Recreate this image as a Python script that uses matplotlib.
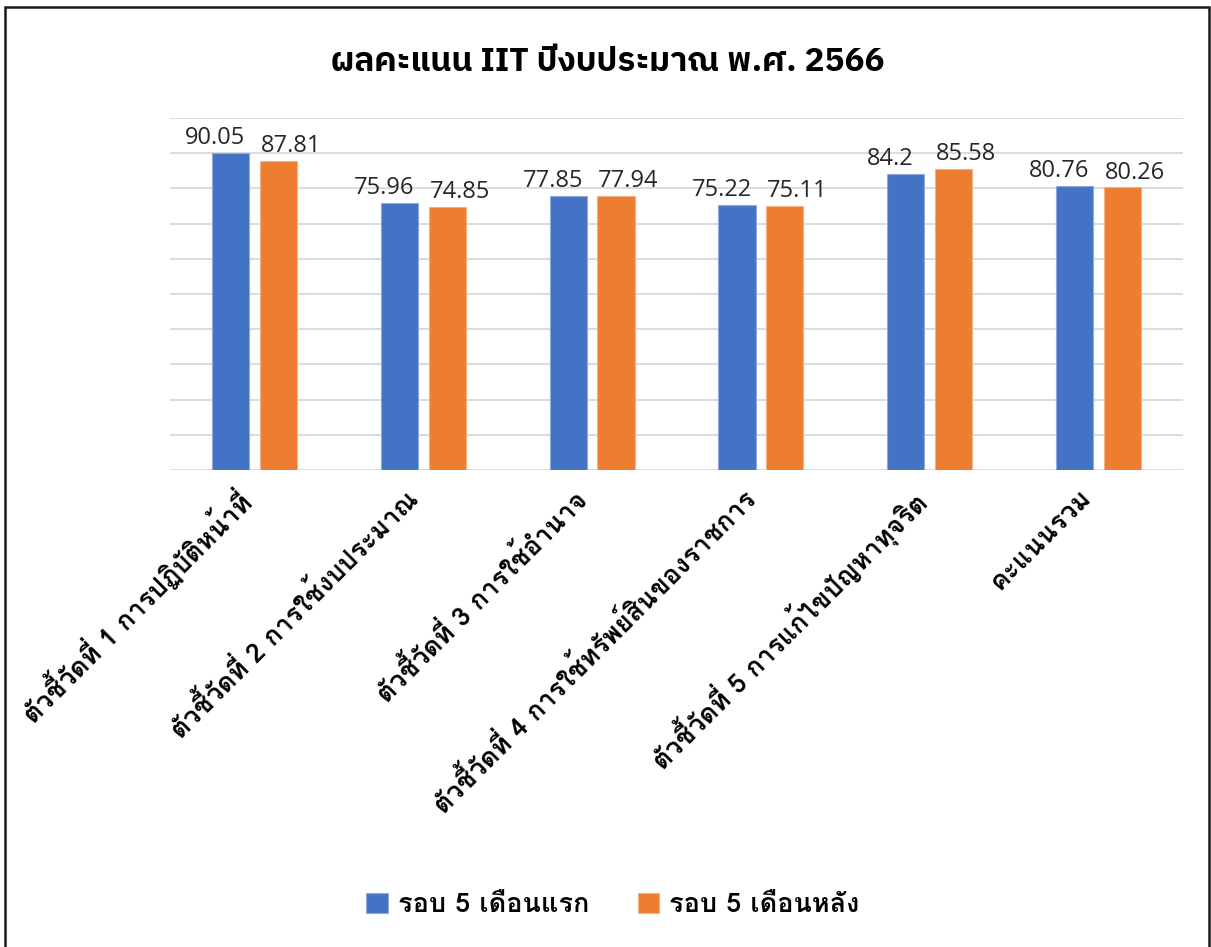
import numpy as np
import matplotlib
matplotlib.use('Agg')
import matplotlib.pyplot as plt
from matplotlib.patches import Rectangle
from matplotlib.transforms import ScaledTranslation

categories = ['ตัวชี้วัดที่ 1 การปฏิบัติหน้าที่',
              'ตัวชี้วัดที่ 2 การใช้งบประมาณ',
              'ตัวชี้วัดที่ 3 การใช้อำนาจ',
              'ตัวชี้วัดที่ 4 การใช้ทรัพย์สินของราชการ',
              'ตัวชี้วัดที่ 5 การแก้ไขปัญหาทุจริต',
              'คะแนนรวม']
first_half = [90.05, 75.96, 77.85, 75.22, 84.2, 80.76]
second_half = [87.81, 74.85, 77.94, 75.11, 85.58, 80.26]
series_names = ['รอบ 5 เดือนแรก', 'รอบ 5 เดือนหลัง']
title = 'ผลคะแนน IIT ปีงบประมาณ พ.ศ. 2566'

blue = '#4472C4'
orange = '#ED7D31'
looped = ['Loma', 'Noto Sans Thai Looped', 'DejaVu Sans']
plain = ['IBM Plex Sans Thai', 'Noto Sans Thai', 'DejaVu Sans']

fig = plt.figure(figsize=(12.11, 9.47), dpi=100)
W, H = 1211, 947
ax = fig.add_axes([170 / W, 1 - 470 / H, (1183 - 170) / W, (470 - 118) / H])

x = np.arange(len(categories))
bw = 0.22
off = 0.142
b1 = ax.bar(x - off, first_half, bw, color=blue, edgecolor='#8FAADC', linewidth=0.8,
            label=series_names[0], zorder=3)
b2 = ax.bar(x + off, second_half, bw, color=orange, edgecolor='#F4B183', linewidth=0.8,
            label=series_names[1], zorder=3)

# labels pushed a little outward, like the original
for bars, vals, dx in [(b1, first_half, -11), (b2, second_half, 9)]:
    for r, v in zip(bars, vals):
        ax.annotate(f'{v:g}', (r.get_x() + r.get_width() / 2, v), xytext=(dx, 2),
                    textcoords='offset points', ha='center', va='bottom',
                    fontsize=17, color='#262626', family=['Open Sans', 'DejaVu Sans'])

ax.set_ylim(0, 100)
ax.set_xlim(-0.5, len(categories) - 0.5)
ax.set_yticks(np.arange(0, 101, 10))
ax.set_yticklabels([])
ax.tick_params(axis='both', length=0)
ax.grid(axis='y', color='#D9D9D9', linewidth=1.3, zorder=0)
for s in ax.spines.values():
    s.set_visible(False)

ax.set_xticks(x)
ax.set_xticklabels(categories, rotation=45, ha='right', va='top', rotation_mode='anchor',
                   fontsize=19, fontweight='bold', family=looped)
ax.tick_params(axis='x', pad=14)
shift = ScaledTranslation(-0.2, 0.05, fig.dpi_scale_trans)
for lbl in ax.get_xticklabels():
    lbl.set_transform(lbl.get_transform() + shift)

fig.text(0.502, 1 - 62 / H, title, ha='center', va='center', fontsize=24,
         fontweight='bold', family=plain)

leg = fig.legend(handles=[b1, b2], labels=series_names, loc='center',
                 bbox_to_anchor=(0.506, 1 - 905 / H), ncol=2, frameon=False,
                 prop={'family': looped, 'weight': 'bold', 'size': 19.5},
                 handlelength=0.8, handleheight=0.8, handletextpad=0.35, columnspacing=1.8)

fig.patches.append(Rectangle((5 / W, -0.05), (1209 - 5) / W, 1 - 7 / H + 0.05,
                             transform=fig.transFigure, fill=False,
                             edgecolor='#1a1a1a', linewidth=1.8))

fig.savefig('out.png', dpi=100)
